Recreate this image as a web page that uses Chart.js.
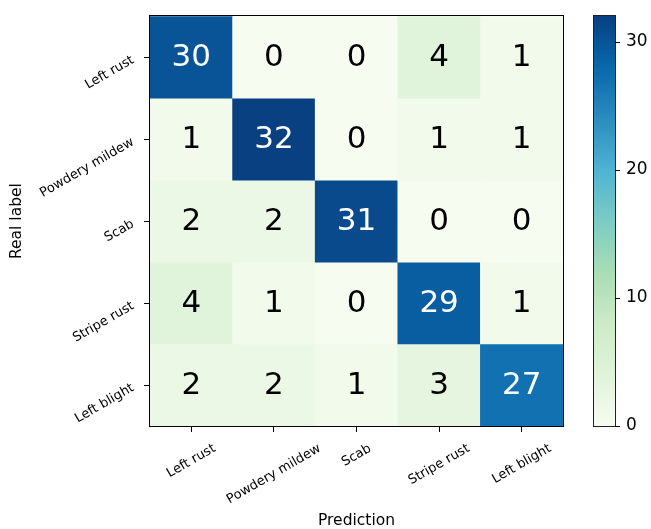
<!DOCTYPE html>
<html>
<head>
<meta charset="utf-8">
<title>Confusion matrix</title>
<script src="https://cdn.jsdelivr.net/npm/chart.js@4.4.1/dist/chart.umd.min.js"></script>
<style>
  html, body { margin: 0; padding: 0; background: #fff; }
  canvas { display: block; }
</style>
</head>
<body>
<canvas id="cm" width="651" height="529"></canvas>
<script>
const classes = ['Left rust', 'Powdery mildew', 'Scab', 'Stripe rust', 'Left blight'];
// rows = real label, columns = prediction
const counts = [
  [30, 0, 0, 4, 1],
  [1, 32, 0, 1, 1],
  [2, 2, 31, 0, 0],
  [4, 1, 0, 29, 1],
  [2, 2, 1, 3, 27]
];
const colorbarTicks = [0, 10, 20, 30];
const vmin = 0;
const vmax = 32;

const FONT = "'DejaVu Sans', sans-serif";
const TICK_FONT = 13;

// GnBu colormap stops (ColorBrewer, 9 classes)
const GNBU = ['#f7fcf0', '#e0f3db', '#ccebc5', '#a8ddb5', '#7bccc4',
              '#4eb3d3', '#2b8cbe', '#0868ac', '#084081'];

function hexToRgb(h) {
  const n = parseInt(h.slice(1), 16);
  return [(n >> 16) & 255, (n >> 8) & 255, n & 255];
}

function gnbu(v) {
  let t = (v - vmin) / (vmax - vmin);
  t = Math.max(0, Math.min(1, t));
  const pos = t * (GNBU.length - 1);
  const i = Math.min(Math.floor(pos), GNBU.length - 2);
  const f = pos - i;
  const a = hexToRgb(GNBU[i]), b = hexToRgb(GNBU[i + 1]);
  const c = a.map((x, k) => Math.round(x + (b[k] - x) * f));
  return `rgb(${c[0]}, ${c[1]}, ${c[2]})`;
}

// one dataset per real-label row, each bar spans its row on the y scale
const datasets = counts.map((row, r) => ({
  label: classes[r],
  data: row.map(() => [r, r + 1]),
  backgroundColor: row.map(gnbu),
  borderWidth: 0,
  grouped: false,
  barPercentage: 1,
  categoryPercentage: 1
}));

const matrixDecor = {
  id: 'matrixDecor',
  afterDraw(chart) {
    const { ctx, chartArea: a, scales } = chart;
    ctx.save();

    // counts written in each cell
    ctx.font = `31px ${FONT}`;
    ctx.textAlign = 'center';
    ctx.textBaseline = 'middle';
    chart.data.datasets.forEach((ds, r) => {
      chart.getDatasetMeta(r).data.forEach((bar, c) => {
        const v = counts[r][c];
        const p = bar.getCenterPoint();
        ctx.fillStyle = v > (vmax + vmin) / 2 ? '#ffffff' : '#000000';
        ctx.fillText(String(v), p.x, p.y + 1);
      });
    });

    // axes frame
    ctx.strokeStyle = '#000';
    ctx.lineWidth = 1;
    ctx.strokeRect(Math.round(a.left) - 0.5, Math.round(a.top) - 0.5,
                   Math.round(a.width) + 1, Math.round(a.height) + 1);

    const rot = Math.PI / 6;
    ctx.font = `${TICK_FONT}px ${FONT}`;
    ctx.fillStyle = '#000';

    // x tick labels: rotated 30deg, box centred under each tick
    const xs = scales.x;
    ctx.textAlign = 'center';
    ctx.textBaseline = 'middle';
    classes.forEach((lab, i) => {
      const w = ctx.measureText(lab).width;
      const H = w * Math.sin(rot) + TICK_FONT * Math.cos(rot);
      ctx.save();
      ctx.translate(xs.getPixelForTick(i), a.bottom + 16 + H / 2);
      ctx.rotate(-rot);
      ctx.fillText(lab, 0, 0);
      ctx.restore();
    });

    // y tick labels: rotated 30deg, anchored at their right end
    const ys = scales.y;
    ctx.textAlign = 'right';
    classes.forEach((lab, i) => {
      ctx.save();
      ctx.translate(a.left - 17, ys.getPixelForTick(i) + 2);
      ctx.rotate(-rot);
      ctx.fillText(lab, 0, 0);
      ctx.restore();
    });

    // colorbar
    const cb = scales.cbar;
    const x0 = Math.round(a.right) + 31;
    const bw = 21;
    const yTop = Math.round(cb.getPixelForValue(vmax));
    const yBot = Math.round(cb.getPixelForValue(vmin));
    const g = ctx.createLinearGradient(0, yBot, 0, yTop);
    GNBU.forEach((c, i) => g.addColorStop(i / (GNBU.length - 1), c));
    ctx.fillStyle = g;
    ctx.fillRect(x0, yTop, bw, yBot - yTop);
    ctx.strokeStyle = '#222';
    ctx.strokeRect(x0 - 0.5, yTop - 0.5, bw + 1, yBot - yTop + 1);
    ctx.strokeStyle = '#000';
    ctx.beginPath();
    colorbarTicks.forEach(v => {
      const y = Math.round(cb.getPixelForValue(v)) + 0.5;
      ctx.moveTo(x0 + bw, y);
      ctx.lineTo(x0 + bw + 5, y);
    });
    ctx.stroke();

    ctx.restore();
  }
};

new Chart(document.getElementById('cm'), {
  type: 'bar',
  data: { labels: classes, datasets },
  options: {
    responsive: false,
    animation: false,
    layout: { padding: { top: 12, left: 0, right: 0, bottom: 0 } },
    plugins: {
      legend: { display: false },
      tooltip: { enabled: false }
    },
    scales: {
      x: {
        type: 'category',
        offset: true,
        grid: { offset: false, drawOnChartArea: false, tickLength: 6, tickColor: '#000' },
        border: { display: false },
        ticks: { display: false },
        title: {
          display: true,
          text: 'Prediction',
          color: '#000',
          font: { family: FONT, size: 15.5 },
          padding: { top: 0, bottom: -1.5 }
        },
        afterFit(scale) { scale.height = 103; }
      },
      y: {
        type: 'linear',
        position: 'left',
        reverse: true,
        min: 0,
        max: 5,
        afterBuildTicks(scale) {
          scale.ticks = classes.map((_, i) => ({ value: i + 0.5 }));
        },
        grid: { drawOnChartArea: false, tickLength: 6, tickColor: '#000' },
        border: { display: false },
        ticks: { display: false },
        title: {
          display: true,
          text: 'Real label',
          color: '#000',
          font: { family: FONT, size: 15.5 },
          padding: { top: 8, bottom: 0 }
        },
        afterFit(scale) { scale.width = 150; }
      },
      cbar: {
        type: 'linear',
        position: 'right',
        min: vmin,
        max: vmax,
        afterBuildTicks(scale) {
          scale.ticks = colorbarTicks.map(v => ({ value: v }));
        },
        grid: { drawOnChartArea: false, tickLength: 57, tickColor: 'transparent' },
        border: { display: false },
        ticks: {
          padding: 6,
          color: '#000',
          font: { family: FONT, size: 17 }
        },
        afterFit(scale) { scale.width = 88; }
      }
    }
  },
  plugins: [matrixDecor]
});
</script>
</body>
</html>
